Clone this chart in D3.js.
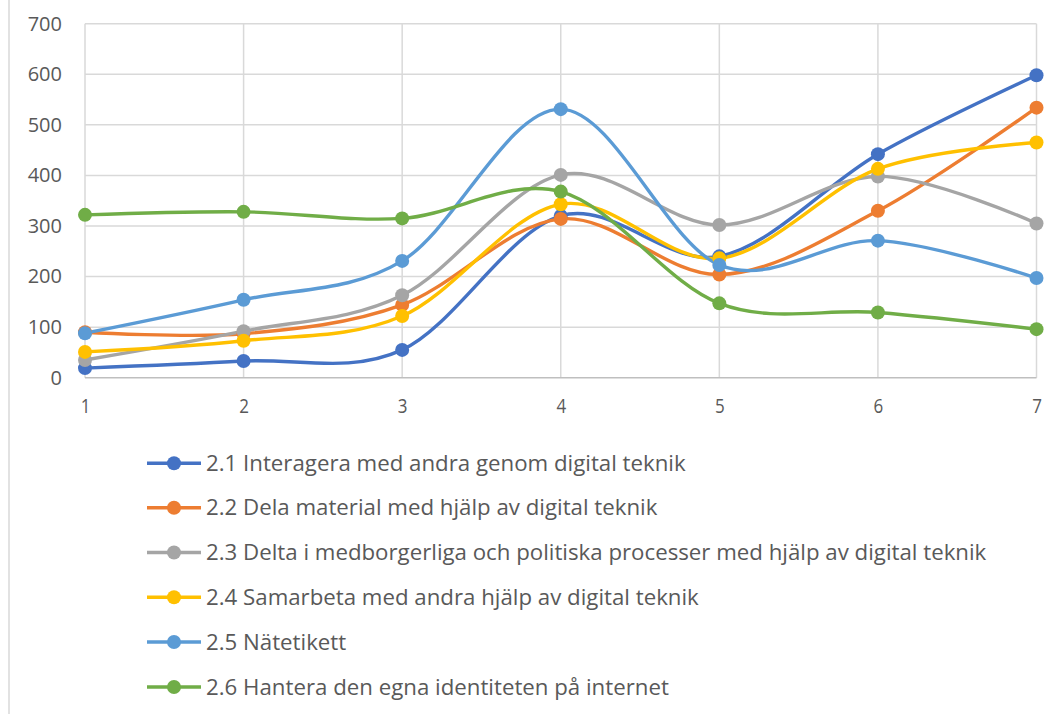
<!DOCTYPE html>
<html><head><meta charset="utf-8">
<script src="https://cdn.jsdelivr.net/npm/d3@7"></script>
<style>body{margin:0;background:#fff}svg{display:block}</style>
</head><body><svg id="c" width="1058" height="714"></svg>
<script>
const categories = [1, 2, 3, 4, 5, 6, 7];
const yTicks = [0, 100, 200, 300, 400, 500, 600, 700];
const seriesNames = [
  "2.1 Interagera med andra genom digital teknik",
  "2.2 Dela material med hjälp av digital teknik",
  "2.3 Delta i medborgerliga och politiska processer med hjälp av digital teknik",
  "2.4 Samarbeta med andra hjälp av digital teknik",
  "2.5 Nätetikett",
  "2.6 Hantera den egna identiteten på internet"
];
const s21 = [19, 33, 55, 320, 240, 442, 598];
const s22 = [90, 87, 144, 314, 204, 330, 534];
const s23 = [35, 92, 163, 401, 302, 398, 305];
const s24 = [51, 73, 122, 343, 236, 413, 465];
const s25 = [88, 154, 231, 531, 223, 271, 197];
const s26 = [322, 328, 315, 368, 147, 129, 96];
const colors = ["#4472C4", "#ED7D31", "#A5A5A5", "#FFC000", "#5B9BD5", "#70AD47"];
const allSeries = [s21, s22, s23, s24, s25, s26];

const svg = d3.select("#c");
const font = "'Open Sans', 'DejaVu Sans', sans-serif";
const x = d3.scaleLinear().domain([1, 7]).range([85, 1036.5]);
const y = d3.scaleLinear().domain([0, 700]).range([377.7, 23.7]);

// frame line at left
svg.append("line").attr("x1", 9).attr("x2", 9).attr("y1", 0).attr("y2", 714)
  .attr("stroke", "#D9D9D9").attr("stroke-width", 1.5);

// horizontal grid
svg.append("g").selectAll("line").data(yTicks.filter(d => d > 0)).join("line")
  .attr("x1", x(1)).attr("x2", x(7)).attr("y1", d => y(d)).attr("y2", d => y(d))
  .attr("stroke", "#D9D9D9").attr("stroke-width", 1.5);
// vertical grid
svg.append("g").selectAll("line").data(categories).join("line")
  .attr("x1", d => x(d)).attr("x2", d => x(d)).attr("y1", y(700)).attr("y2", y(0))
  .attr("stroke", "#D9D9D9").attr("stroke-width", 1.5);
// axis line
svg.append("line").attr("x1", x(1)).attr("x2", x(7)).attr("y1", y(0)).attr("y2", y(0))
  .attr("stroke", "#BFBFBF").attr("stroke-width", 1.5);

// y tick labels
const yAxis = d3.axisLeft(y).tickValues(yTicks).tickSize(0).tickPadding(0).tickFormat(d3.format("d"));
const gy = svg.append("g").attr("transform", "translate(62,0)").call(yAxis);
gy.select(".domain").remove();
gy.selectAll("text").attr("font-family", font).attr("font-size", 20).attr("fill", "#595959");

// x tick labels
const xAxis = d3.axisBottom(x).tickValues(categories).tickSize(0).tickPadding(0).tickFormat(d3.format("d"));
const gx = svg.append("g").attr("transform", "translate(0,399)").call(xAxis);
gx.select(".domain").remove();
gx.selectAll("text").attr("font-family", font).attr("font-size", 20).attr("fill", "#595959")
  .attr("transform", "scale(0.85,1)");

// lines
const line = d3.line().x((d, i) => x(categories[i])).y(d => y(d)).curve(d3.curveCardinal.tension(0));
allSeries.forEach((s, k) => {
  svg.append("path").datum(s).attr("d", line).attr("fill", "none")
    .attr("stroke", colors[k]).attr("stroke-width", 3.4).attr("stroke-linejoin", "round");
});
allSeries.forEach((s, k) => {
  svg.append("g").selectAll("circle").data(s).join("circle")
    .attr("cx", (d, i) => x(categories[i])).attr("cy", d => y(d)).attr("r", 7)
    .attr("fill", colors[k]);
});

// legend
const legY = [463.3, 507.7, 552.5, 597.3, 642, 687];
const lg = svg.append("g");
seriesNames.forEach((n, k) => {
  lg.append("line").attr("x1", 147).attr("x2", 201).attr("y1", legY[k]).attr("y2", legY[k])
    .attr("stroke", colors[k]).attr("stroke-width", 3.4);
  lg.append("circle").attr("cx", 174).attr("cy", legY[k]).attr("r", 7).attr("fill", colors[k]);
  lg.append("text").attr("x", 206).attr("y", legY[k]).attr("dy", "0.35em")
    .attr("font-family", font).attr("font-size", 19).attr("fill", "#595959").text(n);
});
// fit first legend item to target width 480
const t0 = lg.select("text").node();
const w = t0.getComputedTextLength();
const fs = 19 * 480 / w;
lg.selectAll("text").attr("font-size", fs);
</script></body></html>
